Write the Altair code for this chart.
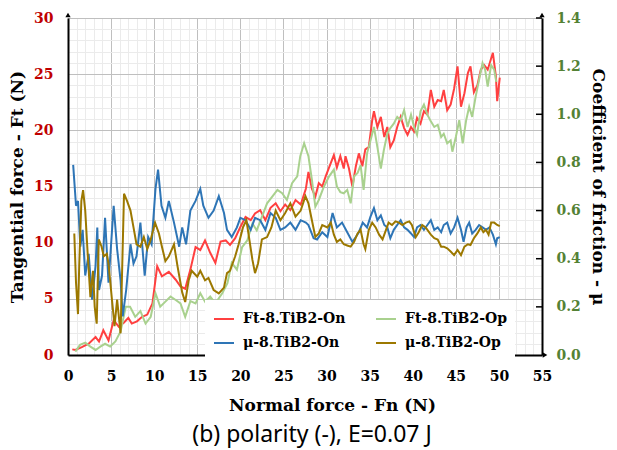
import altair as alt
import pandas as pd

# ---------------- data ----------------
ft_on_x = [0.5, 0.85, 1.6, 2.4, 3.2, 3.6, 4.1, 4.7, 5.3, 5.9, 6.5, 7.0, 7.4, 8.0, 8.6, 9.2, 9.8, 10.35, 10.9,
           11.7, 12.5, 13.05, 13.6, 14.2, 14.8, 15.35, 15.9, 16.5, 17.1, 17.7, 18.3, 18.8, 19.4, 20.0, 20.6,
           21.2, 21.7, 22.3, 22.9, 23.5, 24.1, 24.65, 25.2, 25.8, 26.4, 27.0, 27.6, 27.9, 28.3, 28.7, 29.1,
           29.5, 29.9, 30.5, 30.85, 31.2, 31.6, 32.0, 32.2, 32.6, 33.0, 33.4, 33.75, 34.15, 34.5, 34.9, 35.3,
           35.5, 35.9, 36.3, 36.7, 37.05, 37.4, 37.8, 38.2, 38.6, 39.0, 39.4, 39.8, 40.15, 40.5, 40.9, 41.3,
           41.7, 42.1, 42.5, 42.9, 43.3, 43.6, 44.0, 44.4, 44.8, 45.2, 45.6, 46.0, 46.4, 46.7, 47.1, 47.5,
           47.9, 48.3, 48.7, 49.3, 49.65, 49.8, 50.1]
ft_on_y = [0.5, 0.45, 0.7, 1.0, 1.6, 1.2, 2.2, 1.3, 3.1, 2.5, 2.9, 3.3, 2.8, 3.0, 3.4, 3.6, 4.6, 7.9, 7.0,
           7.4, 6.7, 6.1, 5.9, 7.6, 9.6, 9.35, 10.2, 9.1, 8.2, 10.1, 10.2, 9.8, 10.4, 11.4, 12.3,
           12.0, 12.6, 12.9, 12.0, 13.1, 13.5, 12.8, 13.4, 12.9, 13.8, 13.4, 14.8, 16.3, 14.8, 14.1, 15.3,
           15.0, 15.9, 17.1, 17.8, 16.7, 17.7, 16.6, 17.7, 16.6, 15.0, 16.8, 17.95, 16.8, 18.3, 18.5, 20.9,
           21.7, 20.3, 21.2, 19.4, 20.3, 18.5, 19.1, 20.3, 21.2, 20.2, 19.6, 20.3, 19.9, 21.1, 20.6, 21.7,
           21.4, 23.6, 22.1, 22.7, 22.6, 23.6, 21.8, 22.3, 23.7, 25.7, 22.1, 23.3, 25.1, 25.7, 23.4, 24.0,
           25.4, 25.8, 25.4, 26.9, 24.8, 22.6, 24.7]

ft_op_x = [0.85, 1.4, 2.0, 2.6, 3.2, 3.75, 4.3, 4.9, 5.5, 6.1, 6.7, 7.2, 7.8, 8.4, 9.0, 9.6, 10.15, 10.7,
           11.3, 11.9, 12.5, 13.05, 13.6, 14.2, 14.8, 15.35, 15.9, 16.5, 17.1, 17.9, 18.5, 19.0, 19.6, 20.2,
           20.8, 21.4, 21.9, 22.5, 23.1, 23.7, 24.3, 24.85, 25.4, 26.0, 26.6, 26.95, 27.4, 27.9, 28.3, 28.7,
           29.1, 29.7, 30.3, 30.85, 31.2, 31.6, 32.0, 32.4, 32.8, 33.2, 33.6, 33.95, 34.3, 34.7, 35.1, 35.5,
           35.9, 36.3, 36.65, 37.05, 37.4, 37.8, 38.2, 38.6, 39.0, 39.4, 39.8, 40.15, 40.5, 40.9, 41.3, 41.7,
           42.1, 42.5, 42.9, 43.3, 43.6, 44.0, 44.4, 44.6, 45.0, 45.4, 45.8, 46.2, 46.55, 46.9, 47.3, 47.7,
           48.1, 48.4, 48.7, 49.1, 49.45, 49.7]
ft_op_y = [0.3, 0.9, 1.1, 0.75, 0.45, 0.75, 1.0, 0.75, 1.2, 2.1, 4.3, 4.3, 3.4, 3.9, 2.8, 3.4, 5.5, 4.3,
           4.75, 5.2, 4.9, 4.6, 3.4, 4.8, 4.6, 5.5, 4.75, 5.2, 4.6, 5.5, 6.4, 8.2, 7.6, 9.6,
           10.2, 11.7, 11.1, 12.3, 13.5, 14.1, 14.7, 14.4, 13.8, 15.3, 15.9, 17.7, 18.85, 17.7, 15.6, 13.2,
           13.8, 15.0, 15.9, 16.5, 15.0, 14.5, 14.4, 14.7, 13.5, 15.9, 16.2, 16.9, 14.7, 17.95, 19.1, 20.3,
           18.5, 16.6, 18.25, 19.7, 20.2, 20.6, 21.2, 20.9, 21.8, 20.3, 21.4, 20.3, 19.6, 21.7, 22.3, 21.4,
           20.8, 20.3, 20.5, 19.4, 19.7, 18.85, 19.1, 18.1, 19.4, 20.9, 18.85, 20.9, 22.1, 21.2, 23.0, 24.5,
           26.0, 25.4, 23.9, 25.8, 25.4, 24.3]

mu_on_x = [0.6, 0.93, 1.16, 1.43, 1.7, 2.0, 2.4, 2.8, 3.2, 3.4, 3.6, 3.95, 4.3, 4.7, 5.3, 5.7, 6.1, 6.35,
           6.75, 7.25, 7.6, 7.95, 8.4, 8.9, 9.3, 9.7, 10.15, 10.45, 10.85, 11.3, 11.7, 12.3, 12.9, 13.25,
           13.7, 14.2, 14.8, 15.35, 15.7, 16.3, 16.9, 17.5, 18.1, 18.45, 19.0, 19.6, 20.0, 20.6, 21.2, 21.7,
           22.3, 22.9, 23.5, 24.1, 24.65, 25.2, 25.8, 26.4, 27.0, 27.6, 27.9, 28.5, 28.9, 29.5, 30.1, 30.7,
           31.2, 31.8, 32.4, 33.0, 33.4, 33.75, 34.2, 34.7, 35.1, 35.5, 35.9, 36.3, 36.7, 37.05, 37.4, 37.8,
           38.2, 38.6, 39.0, 39.4, 39.8, 40.15, 40.5, 40.9, 41.3, 41.7, 42.1, 42.5, 42.9, 43.3, 43.6, 44.0,
           44.4, 44.8, 45.2, 45.6, 45.9, 46.25, 46.55, 46.9, 47.3, 47.7, 48.1, 48.5, 48.9, 49.3, 49.65, 49.8,
           50.1]
mu_on_y = [0.79, 0.62, 0.64, 0.45, 0.52, 0.33, 0.42, 0.23, 0.37, 0.53, 0.27, 0.33, 0.57, 0.30, 0.62, 0.44, 0.31, 0.16,
           0.27, 0.46, 0.38, 0.41, 0.55, 0.33, 0.49, 0.46, 0.69, 0.77, 0.62, 0.57, 0.64, 0.55, 0.45, 0.53,
           0.46, 0.60, 0.64, 0.69, 0.62, 0.57, 0.60, 0.66, 0.59, 0.52, 0.49, 0.53, 0.57, 0.56, 0.52, 0.57,
           0.56, 0.52, 0.59, 0.57, 0.52, 0.53, 0.55, 0.52, 0.56, 0.55, 0.54, 0.485, 0.48, 0.51, 0.49, 0.59,
           0.53, 0.55, 0.51, 0.47, 0.49, 0.51, 0.55, 0.53, 0.575, 0.61, 0.56, 0.58, 0.54, 0.53, 0.485, 0.52,
           0.54, 0.56, 0.53, 0.52, 0.505, 0.49, 0.53, 0.54, 0.52, 0.54, 0.56, 0.52, 0.53, 0.51, 0.54, 0.55,
           0.505, 0.53, 0.57, 0.52, 0.47, 0.53, 0.55, 0.505, 0.52, 0.54, 0.53, 0.52, 0.53, 0.50, 0.46, 0.485,
           0.49]

mu_op_x = [0.73, 0.93, 1.16, 1.3, 1.55, 1.75, 2.0, 2.3, 2.6, 2.9, 3.1, 3.33, 3.57, 3.9, 4.15, 4.5, 4.7, 5.1,
           5.4, 5.7, 6.1, 6.5, 6.85, 7.25, 7.6, 7.95, 8.4, 8.8, 9.2, 9.6, 10.1, 10.55, 10.9, 11.3, 11.7,
           12.3, 12.7, 13.25, 13.6, 14.0, 14.35, 15.0, 15.35, 15.9, 16.3, 16.9, 17.5, 18.1, 18.45, 18.8,
           19.4, 19.8, 20.3, 20.7, 21.0, 21.4, 21.7, 22.05, 22.5, 23.1, 23.6, 24.1, 24.65, 25.2, 25.8, 26.4,
           27.0, 27.55, 27.9, 28.3, 28.7, 29.1, 29.5, 30.1, 30.5, 30.85, 31.2, 31.6, 32.0, 32.4, 32.8, 33.2,
           33.6, 33.95, 34.3, 34.5, 34.9, 35.3, 35.7, 36.1, 36.5, 36.9, 37.2, 37.6, 38.0, 38.4, 38.8, 39.2,
           39.6, 39.9, 40.35, 40.7, 41.1, 41.5, 42.1, 42.5, 42.9, 43.3, 43.6, 44.0, 44.4, 44.8, 45.2, 45.6,
           46.0, 46.4, 46.7, 47.1, 47.5, 47.9, 48.2, 48.5, 48.8, 49.1, 49.45, 49.8, 50.1]
mu_op_y = [0.505, 0.30, 0.17, 0.37, 0.64, 0.685, 0.60, 0.41, 0.24, 0.35, 0.20, 0.13, 0.48, 0.45, 0.41, 0.42, 0.38, 0.23,
           0.12, 0.23, 0.09, 0.67, 0.64, 0.60, 0.53, 0.46, 0.45, 0.49, 0.44, 0.48, 0.55, 0.505, 0.45, 0.39, 0.41,
           0.46, 0.37, 0.26, 0.22, 0.31, 0.35, 0.325, 0.35, 0.31, 0.32, 0.27, 0.256, 0.28, 0.34, 0.35,
           0.41, 0.46, 0.53, 0.56, 0.49, 0.395, 0.34, 0.38, 0.48, 0.49, 0.53, 0.60, 0.56, 0.59, 0.63, 0.575,
           0.60, 0.66, 0.63, 0.56, 0.49, 0.505, 0.54, 0.53, 0.55, 0.50, 0.47, 0.48, 0.46, 0.455, 0.45, 0.47,
           0.505, 0.52, 0.46, 0.44, 0.52, 0.55, 0.53, 0.50, 0.48, 0.52, 0.55, 0.54, 0.555, 0.55, 0.54, 0.55,
           0.555, 0.54, 0.49, 0.51, 0.54, 0.53, 0.50, 0.485, 0.48, 0.45, 0.45, 0.443, 0.43, 0.415, 0.436, 0.415,
           0.45, 0.46, 0.457, 0.485, 0.505, 0.53, 0.51, 0.52, 0.50, 0.55, 0.55, 0.54, 0.535]

# legend order (column-major in the legend grid): Ft-On, μ-On | Ft-Op, μ-Op
series_names = ["Ft-8.TiB2-On", "μ-8.TiB2-On", "Ft-8.TiB2-Op", "μ-8.TiB2-Op"]
series_colors = ["#FF4040", "#2E75B6", "#A9D18E", "#9C7800"]

x_ticks = list(range(0, 56))
ft_ticks = list(range(0, 31))
mu_ticks = [0.0, 0.2, 0.4, 0.6, 0.8, 1.0, 1.2, 1.4]

caption = "(b) polarity (-), E=0.07 J"

# ---------------- tables ----------------
def frame(xs, ys, name):
    return pd.DataFrame({"x": xs, "y": ys, "series": name})

ft_df = pd.concat([frame(ft_on_x, ft_on_y, "Ft-8.TiB2-On"),
                   frame(ft_op_x, ft_op_y, "Ft-8.TiB2-Op")], ignore_index=True)
mu_df = pd.concat([frame(mu_on_x, mu_on_y, "μ-8.TiB2-On"),
                   frame(mu_op_x, mu_op_y, "μ-8.TiB2-Op")], ignore_index=True)
mu_tick_df = pd.DataFrame({"v": mu_ticks[1:]})

SERIF = "DejaVu Serif"
MAJOR = "#BFBFBF"
MINOR = "#EBEBEB"
W, H = 474, 337

grid_color = {"condition": {"test": "datum.value % 5 === 0", "value": MAJOR}, "value": MINOR}

x_enc = alt.X(
    "x:Q",
    scale=alt.Scale(domain=[0, 55], nice=False, zero=False),
    axis=alt.Axis(
        values=x_ticks,
        labelExpr="datum.value % 5 === 0 ? datum.label : ''",
        labelFlush=False,
        labelOverlap=False,
        gridColor=grid_color,
        gridWidth=1,
        ticks=False,
        domainColor="black",
        domainWidth=2,
        labelFont=SERIF, labelFontWeight="bold", labelFontSize=14, labelColor="black",
        labelPadding=14,
        title="Normal force - Fn (N)",
        titleFont=SERIF, titleFontWeight="bold", titleFontSize=17, titleColor="black",
        titleX=264, titleY=42,
    ),
)

color_enc = alt.Color(
    "series:N",
    scale=alt.Scale(domain=series_names, range=series_colors),
    legend=alt.Legend(
        title=None,
        orient="none",
        legendX=137,
        legendY=282,
        columns=2,
        columnPadding=26,
        rowPadding=6,
        padding=8,
        fillColor="white",
        symbolType="stroke",
        symbolStrokeWidth=2,
        symbolSize=400,
        labelFont=SERIF, labelFontWeight="bold", labelFontSize=14, labelColor="black",
        labelOffset=8,
        labelLimit=300,
    ),
)

ft_layer = alt.Chart(ft_df).mark_line(strokeWidth=2).encode(
    x=x_enc,
    y=alt.Y(
        "y:Q",
        scale=alt.Scale(domain=[0, 30], nice=False),
        axis=alt.Axis(
            values=ft_ticks,
            labelExpr="datum.value % 5 === 0 ? datum.label : ''",
            labelFlush=False,
            labelOverlap=False,
            gridColor=grid_color,
            ticks=False,
            domainColor="black",
            domainWidth=2,
            labelFont=SERIF, labelFontWeight="bold", labelFontSize=14, labelColor="#C00000",
            labelPadding=15,
            title="Tangential force - Ft (N)",
            titleFont=SERIF, titleFontWeight="bold", titleFontSize=17, titleColor="black",
            titlePadding=7,
        ),
    ),
    color=color_enc,
)

mu_layer = alt.Chart(mu_df).mark_line(strokeWidth=2).encode(
    x=x_enc,
    y=alt.Y(
        "y:Q",
        scale=alt.Scale(domain=[0, 1.4], nice=False),
        axis=alt.Axis(
            orient="right",
            values=mu_ticks,
            format=".1f",
            labelFlush=False,
            labelOverlap=False,
            grid=False,
            ticks=False,
            domainColor="black",
            domainWidth=2,
            labelFont=SERIF, labelFontWeight="bold", labelFontSize=14, labelColor="#548235",
            labelPadding=14,
            title="Coefficient of friction - μ",
            titleFont=SERIF, titleFontWeight="bold", titleFontSize=17, titleColor="black",
            titlePadding=8,
        ),
    ),
    color=color_enc,
)

# short inward tick marks on the right (μ) axis
mu_tick_layer = alt.Chart(mu_tick_df).mark_rule(color="black", strokeWidth=1.5).encode(
    y=alt.Y("v:Q", scale=alt.Scale(domain=[0, 1.4], nice=False), axis=None),
    x=alt.value(W - 6),
    x2=alt.value(W),
)

caption_layer = alt.Chart(pd.DataFrame({"t": [caption]})).mark_text(
    font="Noto Sans", fontSize=23, color="black", baseline="middle", align="center"
).encode(text="t:N", x=alt.value(244), y=alt.value(417))

# small arrow heads at the ends of the axis lines
arrow_up_left = alt.Chart(pd.DataFrame({"a": [0]})).mark_point(
    shape="triangle-up", filled=True, size=28, color="black", opacity=1
).encode(x=alt.value(0), y=alt.value(-3))
arrow_up_right = alt.Chart(pd.DataFrame({"a": [0]})).mark_point(
    shape="triangle-up", filled=True, size=28, color="black", opacity=1
).encode(x=alt.value(W), y=alt.value(-3))
arrow_right = alt.Chart(pd.DataFrame({"a": [0]})).mark_point(
    shape="triangle-right", filled=True, size=28, color="black", opacity=1
).encode(x=alt.value(W + 3), y=alt.value(H))

chart = alt.layer(
    ft_layer, mu_layer, mu_tick_layer, caption_layer, arrow_up_left, arrow_up_right, arrow_right
).resolve_scale(
    y="independent"
).properties(
    width=W,
    height=H,
    padding={"left": 60, "top": 10, "right": 67, "bottom": 100},
    autosize=alt.AutoSizeParams(type="none"),
).configure_view(stroke=None).configure(background="white")

chart.save("out.html", embed_options={"renderer": "svg", "actions": False})
